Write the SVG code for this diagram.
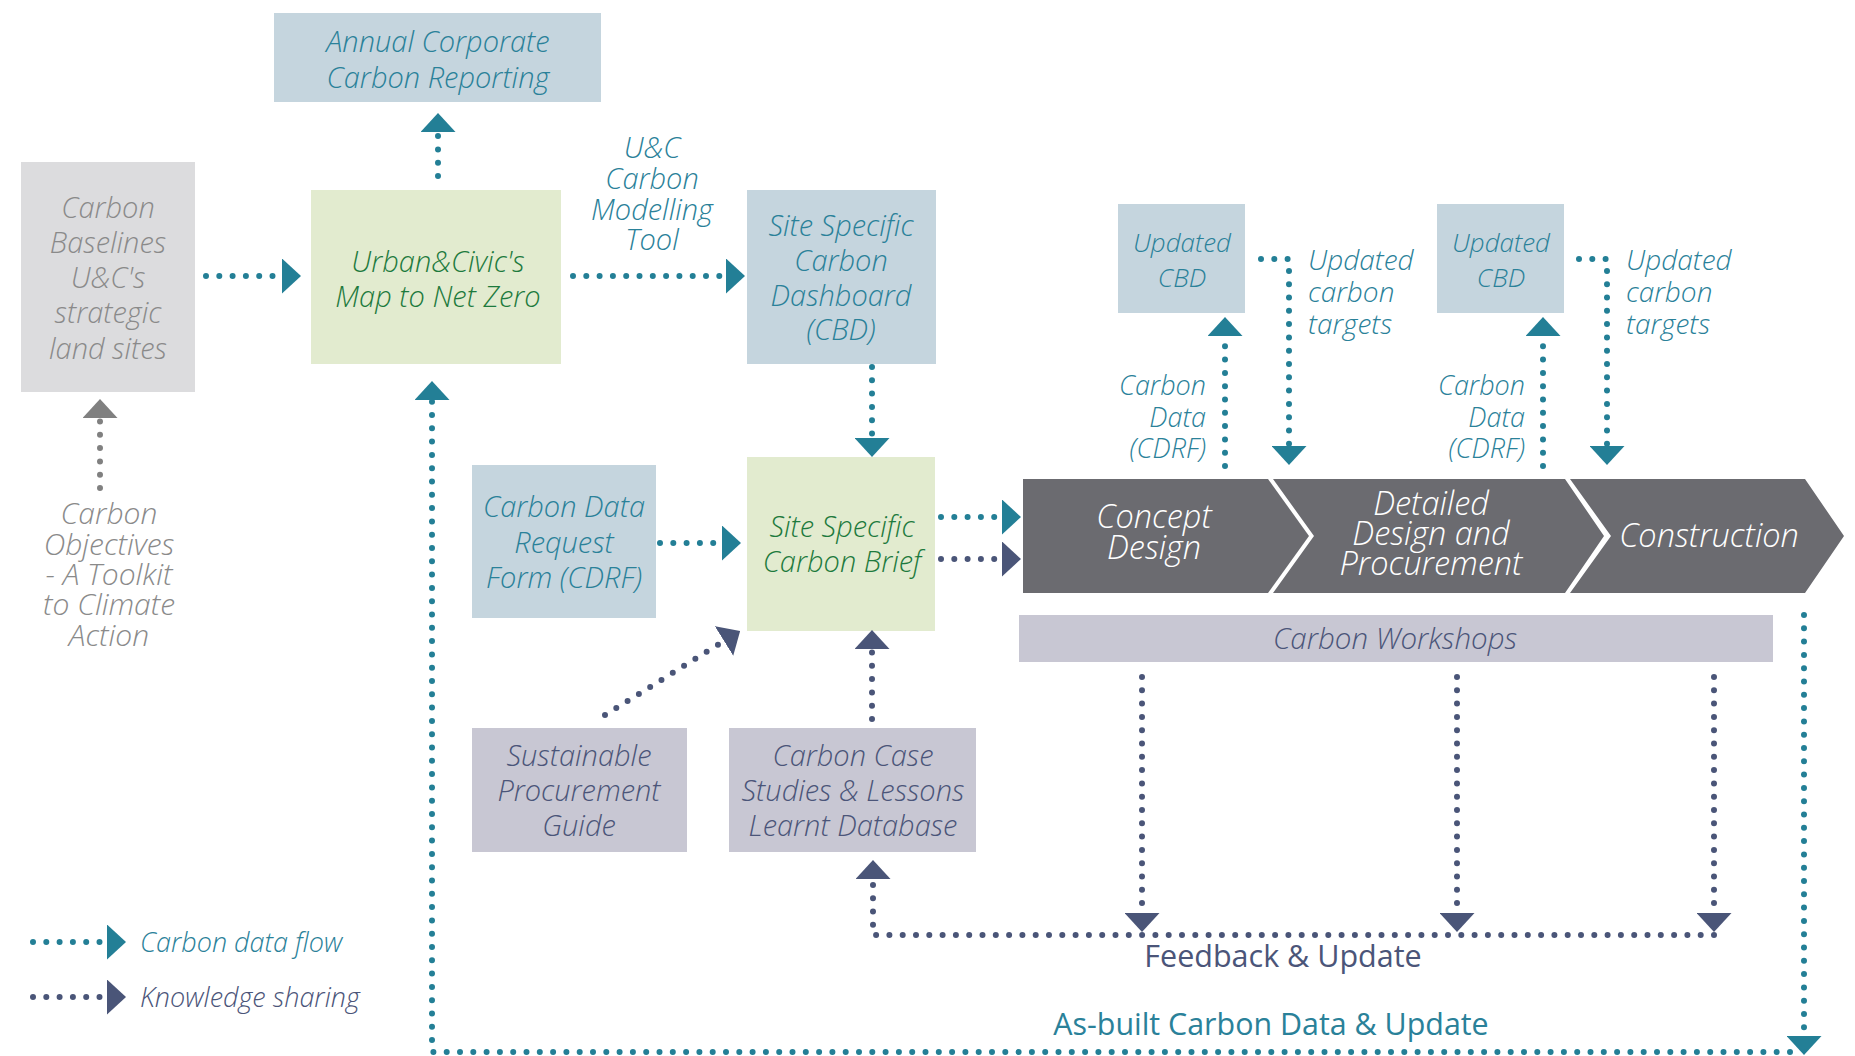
<svg xmlns="http://www.w3.org/2000/svg" width="1855" height="1056" viewBox="0 0 1855 1056">
<defs>
<style>
text{font-family:"Open Sans","Noto Sans","Liberation Sans",sans-serif;font-style:italic;font-weight:300;text-anchor:middle;}
.t27{font-size:29px;}
.t26{font-size:26px;}
.t28{font-size:28px;}
.tlab{font-size:27px;}
.tchev{font-size:32.5px;}
.teal{fill:#2a8199;}
.green{fill:#1d7a3d;}
.grey{fill:#8a8a8a;}
.navy{fill:#4b5579;}
.white{fill:#ffffff;}
.bx-blue{fill:#c5d5de;}
.bx-green{fill:#e2ebcf;}
.bx-grey{fill:#dcdcde;}
.bx-lav{fill:#c8c7d3;}
.chev{fill:#6b6b70;}
.dl{fill:none;stroke-width:6;stroke-dasharray:0 13.3;stroke-linecap:round;}
.dteal{stroke:#237f96;marker-end:url(#ahTeal);}
.dnavy{stroke:#4a5578;marker-end:url(#ahNavy);}
.dgrey{stroke:#808080;marker-end:url(#ahGrey);}
</style>
<marker id="ahTeal" markerUnits="userSpaceOnUse" viewBox="0 0 19 35" markerWidth="19" markerHeight="35" refX="0" refY="17.5" orient="auto"><path d="M0,0 L19,17.5 L0,35 Z" fill="#237f96"/></marker>
<marker id="ahNavy" markerUnits="userSpaceOnUse" viewBox="0 0 19 35" markerWidth="19" markerHeight="35" refX="0" refY="17.5" orient="auto"><path d="M0,0 L19,17.5 L0,35 Z" fill="#4a5578"/></marker>
<marker id="ahGrey" markerUnits="userSpaceOnUse" viewBox="0 0 19 35" markerWidth="19" markerHeight="35" refX="0" refY="17.5" orient="auto"><path d="M0,0 L19,17.5 L0,35 Z" fill="#808080"/></marker>
</defs>
<rect width="1855" height="1056" fill="#ffffff"/>

<g id="annual-reporting">
<rect class="bx-blue" x="274" y="13" width="327" height="89"/>
<text class="t27 teal"><tspan x="438" y="52">Annual Corporate</tspan><tspan x="438" y="88">Carbon Reporting</tspan></text>
</g>

<g id="carbon-baselines">
<rect class="bx-grey" x="21" y="162" width="174" height="230"/>
<text class="t27 grey"><tspan x="108" y="218">Carbon</tspan><tspan x="108" y="253">Baselines</tspan><tspan x="108" y="288">U&amp;C's</tspan><tspan x="108" y="323">strategic</tspan><tspan x="108" y="359">land sites</tspan></text>
</g>

<g id="map-net-zero">
<rect class="bx-green" x="311" y="190" width="250" height="174"/>
<text class="t27 green"><tspan x="438" y="272">Urban&amp;Civic's</tspan><tspan x="438" y="307">Map to Net Zero</tspan></text>
</g>

<g id="modelling-tool-label">
<text class="t27 teal"><tspan x="652" y="158">U&amp;C</tspan><tspan x="652" y="189">Carbon</tspan><tspan x="652" y="220">Modelling</tspan><tspan x="652" y="250">Tool</tspan></text>
</g>

<g id="cbd">
<rect class="bx-blue" x="747" y="190" width="189" height="174"/>
<text class="t27 teal"><tspan x="841" y="236">Site Specific</tspan><tspan x="841" y="271">Carbon</tspan><tspan x="841" y="306">Dashboard</tspan><tspan x="841" y="340">(CBD)</tspan></text>
</g>

<g id="updated-cbd-1">
<rect class="bx-blue" x="1118" y="204" width="127" height="109"/>
<text class="t26 teal"><tspan x="1182" y="252">Updated</tspan><tspan x="1182" y="287">CBD</tspan></text>
</g>

<g id="updated-cbd-2">
<rect class="bx-blue" x="1437" y="204" width="127" height="109"/>
<text class="t26 teal"><tspan x="1501" y="252">Updated</tspan><tspan x="1501" y="287">CBD</tspan></text>
</g>

<g id="carbon-data-label-1">
<text class="tlab teal" style="text-anchor:end"><tspan x="1206" y="395">Carbon</tspan><tspan x="1206" y="427">Data</tspan><tspan x="1206" y="458">(CDRF)</tspan></text>
</g>
<g id="carbon-data-label-2">
<text class="tlab teal" style="text-anchor:end"><tspan x="1525" y="395">Carbon</tspan><tspan x="1525" y="427">Data</tspan><tspan x="1525" y="458">(CDRF)</tspan></text>
</g>
<g id="targets-label-1">
<text class="t28 teal" style="text-anchor:start"><tspan x="1308" y="270">Updated</tspan><tspan x="1308" y="302">carbon</tspan><tspan x="1308" y="334">targets</tspan></text>
</g>
<g id="targets-label-2">
<text class="t28 teal" style="text-anchor:start"><tspan x="1626" y="270">Updated</tspan><tspan x="1626" y="302">carbon</tspan><tspan x="1626" y="334">targets</tspan></text>
</g>

<g id="carbon-objectives">
<text class="grey" style="font-size:30px"><tspan x="109" y="524">Carbon</tspan><tspan x="109" y="554.5">Objectives</tspan><tspan x="109" y="585">- A Toolkit</tspan><tspan x="109" y="615">to Climate</tspan><tspan x="109" y="645.5">Action</tspan></text>
</g>

<g id="cdrf">
<rect class="bx-blue" x="472" y="465" width="184" height="153"/>
<text class="t27 teal"><tspan x="564" y="517">Carbon Data</tspan><tspan x="564" y="553">Request</tspan><tspan x="564" y="588">Form (CDRF)</tspan></text>
</g>

<g id="carbon-brief">
<rect class="bx-green" x="747" y="457" width="188" height="174"/>
<text class="t27 green"><tspan x="842" y="537">Site Specific</tspan><tspan x="842" y="572">Carbon Brief</tspan></text>
</g>

<g id="sustainable-procurement">
<rect class="bx-lav" x="472" y="728" width="215" height="124"/>
<text class="t27 navy"><tspan x="579" y="766">Sustainable</tspan><tspan x="579" y="801">Procurement</tspan><tspan x="579" y="836">Guide</tspan></text>
</g>

<g id="case-studies">
<rect class="bx-lav" x="729" y="728" width="247" height="124"/>
<text class="t27 navy"><tspan x="853" y="766">Carbon Case</tspan><tspan x="853" y="801">Studies &amp; Lessons</tspan><tspan x="853" y="836">Learnt Database</tspan></text>
</g>

<g id="stage-concept">
<polygon class="chev" points="1023,479 1268,479 1309,536 1268,593 1023,593"/>
<text class="white tchev"><tspan x="1154" y="528">Concept</tspan><tspan x="1154" y="559">Design</tspan></text>
</g>
<g id="stage-detailed">
<polygon class="chev" points="1273,479 1565,479 1604,536 1565,593 1273,593 1314,536"/>
<text class="white tchev"><tspan x="1431" y="515">Detailed</tspan><tspan x="1431" y="545">Design and</tspan><tspan x="1431" y="575">Procurement</tspan></text>
</g>
<g id="stage-construction">
<polygon class="chev" points="1570,479 1805,479 1844,536 1805,593 1570,593 1611,536"/>
<text class="white tchev" x="1709" y="547">Construction</text>
</g>

<g id="carbon-workshops">
<rect class="bx-lav" x="1019" y="615" width="754" height="47"/>
<text class="navy" style="font-size:29.5px" x="1395" y="649">Carbon Workshops</text>
</g>

<g id="connectors">
<path class="dl dteal" d="M206,276 H282"/>
<path class="dl dteal" d="M438,176 V132"/>
<path class="dl dteal" d="M573,276 H726"/>
<path class="dl dteal" d="M872,367 V438"/>
<path class="dl dteal" d="M660,543 H722"/>
<path class="dl dteal" d="M941,517 H1002"/>
<path class="dl dteal" d="M1225,466 V336"/>
<path class="dl dteal" d="M1261,259 H1289 V446"/>
<path class="dl dteal" d="M1543,466 V336"/>
<path class="dl dteal" d="M1579,259 H1607 V446"/>
<path class="dl dteal" d="M1804,615 V1036"/>
<path class="dl dteal" d="M1790,1052 H432 V400"/>
<path class="dl dnavy" d="M941,559 H1002"/>
<path class="dl dnavy" d="M605,715 L724,641"/>
<path class="dl dnavy" d="M872,719 V649"/>
<path class="dl dnavy" d="M1142,677 V913"/>
<path class="dl dnavy" d="M1457,677 V913"/>
<path class="dl dnavy" d="M1714,677 V913"/>
<path class="dl dnavy" d="M1714,935 H873 V879"/>
<path class="dl dgrey" d="M100,488 V418"/>
<text style="font-size:30.5px;font-style:normal;font-weight:400" class="navy" x="1283" y="967">Feedback &amp; Update</text>
<text style="font-size:30.4px;font-style:normal;font-weight:400" class="teal" x="1271" y="1035">As-built Carbon Data &amp; Update</text>
</g>

<g id="legend">
<path class="dl dteal" d="M33,942 H107"/>
<path class="dl dnavy" d="M33,997 H107"/>
<text class="teal" style="font-size:27px;text-anchor:start" x="140" y="952">Carbon data flow</text>
<text class="navy" style="font-size:27px;text-anchor:start" x="140" y="1007">Knowledge sharing</text>
</g>
</svg>
